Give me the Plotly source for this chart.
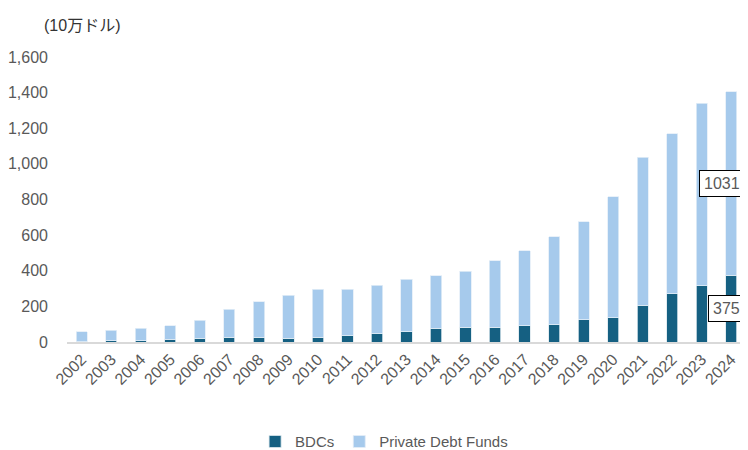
import plotly.graph_objects as go

years = [str(y) for y in range(2002, 2025)]
bdcs = [1, 8, 8, 16, 22, 28, 28, 21, 28, 34, 45, 58, 77, 84, 84, 90, 97, 124, 135, 206, 270, 315, 375]
private_debt = [57, 58, 69, 74, 101, 157, 197, 241, 268, 262, 275, 294, 296, 313, 371, 423, 493, 550, 680, 832, 899, 1026, 1031]
y_ticks = [0, 200, 400, 600, 800, 1000, 1200, 1400, 1600]

DARK = "#156082"
LIGHT = "#A6CAEC"
GRAY = "#595959"
FONT = "Liberation Sans, Arial, Noto Sans CJK JP, sans-serif"

fig = go.Figure()
fig.add_trace(go.Bar(x=years, y=bdcs, name="BDCs", marker_color=DARK,
                     marker_line_color="#dbe7ee", marker_line_width=0.8))
fig.add_trace(go.Bar(x=years, y=private_debt, name="Private Debt Funds", marker_color=LIGHT,
                     marker_line_color="#e4eef8", marker_line_width=0.8))

last = len(years) - 1
fig.add_annotation(x=last, y=bdcs[last] / 2, text=str(bdcs[last]), showarrow=False, xshift=-5,
                   font=dict(size=16, color=GRAY, family=FONT), bgcolor="white",
                   bordercolor="black", borderwidth=1, borderpad=4)
fig.add_annotation(x=last, y=bdcs[last] + private_debt[last] / 2, text=str(private_debt[last]), showarrow=False,
                   xshift=-9, font=dict(size=16, color=GRAY, family=FONT), bgcolor="white",
                   bordercolor="black", borderwidth=1, borderpad=4)

fig.add_annotation(xref="paper", yref="paper", x=-0.037, y=1.112, xanchor="left", yanchor="middle",
                   text="(10万ドル)", showarrow=False, font=dict(size=16, color="#333333", family=FONT))

fig.update_layout(
    width=748, height=490,
    barmode="stack", bargap=0.62,
    plot_bgcolor="white", paper_bgcolor="white",
    margin=dict(l=59, r=10, t=49, b=156, autoexpand=False),
    font=dict(family=FONT, color=GRAY, size=16),
    legend=dict(orientation="h", x=0.467, xanchor="center", y=-0.35, yanchor="middle",
                font=dict(size=15, color=GRAY), traceorder="normal"),
    xaxis=dict(type="category", range=[-0.5, len(years) - 0.5], tickangle=-45, showline=True,
               linecolor="#d9d9d9", linewidth=1.5, showgrid=False, ticks="", automargin=False,
               tickfont=dict(size=16, color=GRAY)),
    yaxis=dict(range=[0, 1600], tickvals=y_ticks, tickformat=",d", showgrid=False, zeroline=False,
               showline=False, ticks="", ticklabelstandoff=18, automargin=False,
               tickfont=dict(size=16, color=GRAY)),
)

fig.write_html("out.html")
